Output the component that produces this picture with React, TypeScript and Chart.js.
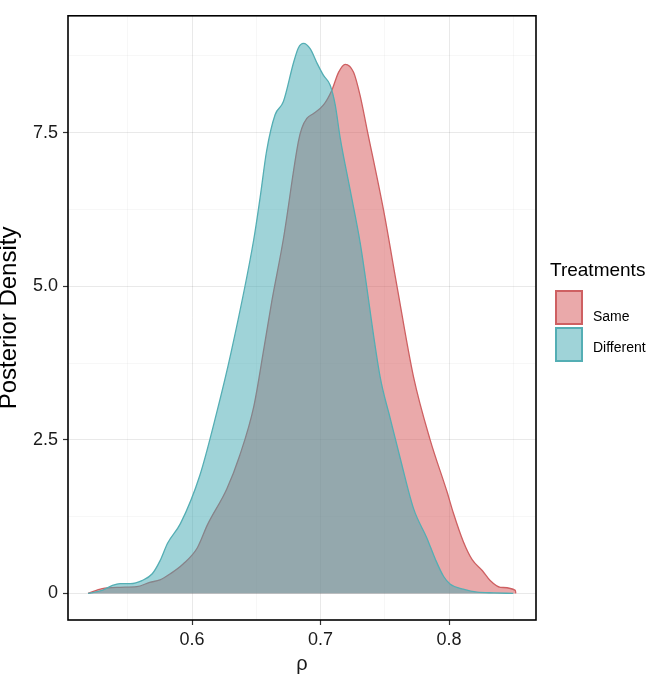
import React, { useEffect, useRef } from 'react';
import { Chart, registerables } from 'chart.js';

Chart.register(...registerables);

// Posterior density of rho, "Same" treatments
const sameRho = [0.519, 0.53, 0.544, 0.557, 0.567, 0.575, 0.583, 0.593, 0.604, 0.612, 0.627, 0.637, 0.648, 0.656, 0.662, 0.671, 0.6828, 0.6854, 0.6893, 0.6945, 0.7023, 0.7088, 0.714, 0.7192, 0.7257, 0.7308, 0.736, 0.749, 0.7594, 0.7724, 0.7853, 0.7985, 0.8035, 0.811, 0.818, 0.826, 0.832, 0.84, 0.8516, 0.852];
const sameDensity = [0, 0.08, 0.1, 0.11, 0.18, 0.22, 0.32, 0.48, 0.74, 1.12, 1.7, 2.24, 3.04, 4.0, 4.75, 5.76, 7.36, 7.57, 7.73, 7.81, 7.95, 8.19, 8.48, 8.61, 8.48, 8.1, 7.57, 6.24, 5.01, 3.52, 2.5, 1.65, 1.3, 0.85, 0.55, 0.37, 0.21, 0.1, 0.05, 0];

// Posterior density of rho, "Different" treatments
const diffRho = [0.519, 0.53, 0.538, 0.544, 0.552, 0.561, 0.569, 0.575, 0.581, 0.591, 0.606, 0.619, 0.63, 0.648, 0.653, 0.658, 0.6646, 0.671, 0.679, 0.6828, 0.6867, 0.692, 0.697, 0.7023, 0.7075, 0.7114, 0.7153, 0.723, 0.7308, 0.7464, 0.7542, 0.762, 0.7724, 0.7828, 0.7895, 0.7957, 0.801, 0.811, 0.822, 0.835, 0.85];
const diffDensity = [0, 0.05, 0.13, 0.16, 0.16, 0.21, 0.32, 0.53, 0.82, 1.14, 1.92, 2.93, 3.89, 5.76, 6.45, 7.2, 7.79, 8.0, 8.64, 8.88, 8.95, 8.86, 8.64, 8.43, 8.27, 7.95, 7.41, 6.57, 5.71, 3.52, 2.85, 2.2, 1.38, 0.9, 0.55, 0.28, 0.15, 0.07, 0.02, 0.01, 0];

const xTicks = [0.55, 0.6, 0.65, 0.7, 0.75, 0.8, 0.85];
const xTickLabels = ['', '0.6', '', '0.7', '', '0.8', ''];
const yTicks = [0, 1.25, 2.5, 3.75, 5, 6.25, 7.5, 8.75];
const yTickLabels = ['0', '', '2.5', '', '5.0', '', '7.5', ''];

const seriesNames = ['Same', 'Different'];
const lineColors = ['rgb(206,96,98)', 'rgb(84,174,180)'];
const fillColors = ['rgba(212,76,78,0.48)', 'rgba(64,168,178,0.5)'];

const FONT = "'Liberation Sans', Arial, Helvetica, sans-serif";

const borderPlugin = {
  id: 'panelBorder',
  afterDraw(chart: any) {
    const { ctx, chartArea } = chart;
    ctx.save();
    ctx.strokeStyle = '#000';
    ctx.lineWidth = 1.6;
    ctx.strokeRect(chartArea.left, chartArea.top, chartArea.right - chartArea.left, chartArea.bottom - chartArea.top);
    ctx.restore();
  },
};

function labelFor(ticks: number[], labels: string[], v: number) {
  const i = ticks.findIndex((t) => Math.abs(t - v) < 1e-9);
  return i >= 0 ? labels[i] : '';
}

export default function App() {
  const ref = useRef<HTMLCanvasElement | null>(null);

  useEffect(() => {
    if (!ref.current) return;
    const toPts = (xs: number[], ys: number[]) => xs.map((x, i) => ({ x, y: ys[i] }));
    const isMajorX = (v: number) => labelFor(xTicks, xTickLabels, v) !== '';
    const isMajorY = (v: number) => labelFor(yTicks, yTickLabels, v) !== '';

    const chart = new Chart(ref.current, {
      type: 'line',
      data: {
        datasets: [
          {
            label: seriesNames[0],
            data: toPts(sameRho, sameDensity),
            borderColor: lineColors[0],
            backgroundColor: fillColors[0],
            borderWidth: 1.3,
            fill: 'origin',
            pointRadius: 0,
            cubicInterpolationMode: 'monotone',
            order: 2,
          },
          {
            label: seriesNames[1],
            data: toPts(diffRho, diffDensity),
            borderColor: lineColors[1],
            backgroundColor: fillColors[1],
            borderWidth: 1.3,
            fill: 'origin',
            pointRadius: 0,
            cubicInterpolationMode: 'monotone',
            order: 1,
          },
        ],
      },
      options: {
        animation: false,
        responsive: false,
        layout: { padding: { left: 0, right: 115, top: 6, bottom: 0 } },
        plugins: { legend: { display: false }, tooltip: { enabled: false } },
        scales: {
          x: {
            type: 'linear',
            min: 0.5034,
            max: 0.8677,
            afterBuildTicks: (s: any) => { s.ticks = xTicks.map((v) => ({ value: v })); },
            afterFit: (s: any) => { s.height = 64; },
            border: { display: false },
            grid: {
              color: (c: any) => (c.tick && isMajorX(c.tick.value) ? 'rgba(0,0,0,0.085)' : 'rgba(0,0,0,0.045)'),
              lineWidth: (c: any) => (c.tick && isMajorX(c.tick.value) ? 1 : 0.8),
              tickColor: (c: any) => (c.tick && isMajorX(c.tick.value) ? '#333' : 'rgba(0,0,0,0)'),
              tickLength: 5,
              tickWidth: 1.2,
            },
            ticks: {
              autoSkip: false,
              maxRotation: 0,
              padding: 4,
              color: '#1a1a1a',
              font: { family: FONT, size: 18 },
              callback: (v: any) => labelFor(xTicks, xTickLabels, Number(v)),
            },
            title: {
              display: true,
              text: 'ρ',
              color: '#1a1a1a',
              font: { family: FONT, size: 20, lineHeight: 1.2 },
              padding: { top: 0, bottom: 8 },
            },
          },
          y: {
            type: 'linear',
            min: -0.432,
            max: 9.4,
            afterBuildTicks: (s: any) => { s.ticks = yTicks.map((v) => ({ value: v })); },
            afterFit: (s: any) => { s.width = 68; },
            border: { display: false },
            grid: {
              color: (c: any) => (c.tick && isMajorY(c.tick.value) ? 'rgba(0,0,0,0.085)' : 'rgba(0,0,0,0.045)'),
              lineWidth: (c: any) => (c.tick && isMajorY(c.tick.value) ? 1 : 0.8),
              tickColor: (c: any) => (c.tick && isMajorY(c.tick.value) ? '#333' : 'rgba(0,0,0,0)'),
              tickLength: 5,
              tickWidth: 1.2,
            },
            ticks: {
              autoSkip: false,
              padding: 5,
              color: '#1a1a1a',
              font: { family: FONT, size: 18 },
              callback: (v: any) => labelFor(yTicks, yTickLabels, Number(v)),
            },
            title: {
              display: true,
              text: 'Posterior Density',
              color: '#000',
              font: { family: FONT, size: 24, lineHeight: 0.8 },
              padding: { top: 0, bottom: 0 },
            },
          },
        },
      },
      plugins: [borderPlugin],
    } as any);

    return () => chart.destroy();
  }, []);

  const legendBox = (i: number, top: number) => ({
    position: 'absolute' as const,
    left: 555,
    top,
    width: 28,
    height: 35,
    boxSizing: 'border-box' as const,
    background: fillColors[i],
    border: `2px solid ${lineColors[i]}`,
  });

  const textStyle = (size: number, top: number, left: number) => ({
    position: 'absolute' as const,
    left,
    top,
    fontFamily: FONT,
    fontSize: size,
    lineHeight: 1,
    color: '#000',
    whiteSpace: 'nowrap' as const,
  });

  return (
    <div style={{ position: 'fixed', left: 0, top: 0, width: 651, height: 684, background: '#fff' }}>
      <canvas ref={ref} width={651} height={684} style={{ position: 'absolute', left: 0, top: 0, width: 651, height: 684 }} />
      <div style={textStyle(19, 260, 550)}>Treatments</div>
      <div style={legendBox(0, 290)} />
      <div style={legendBox(1, 327)} />
      <div style={textStyle(14, 309, 593)}>{seriesNames[0]}</div>
      <div style={textStyle(14, 340, 593)}>{seriesNames[1]}</div>
    </div>
  );
}
